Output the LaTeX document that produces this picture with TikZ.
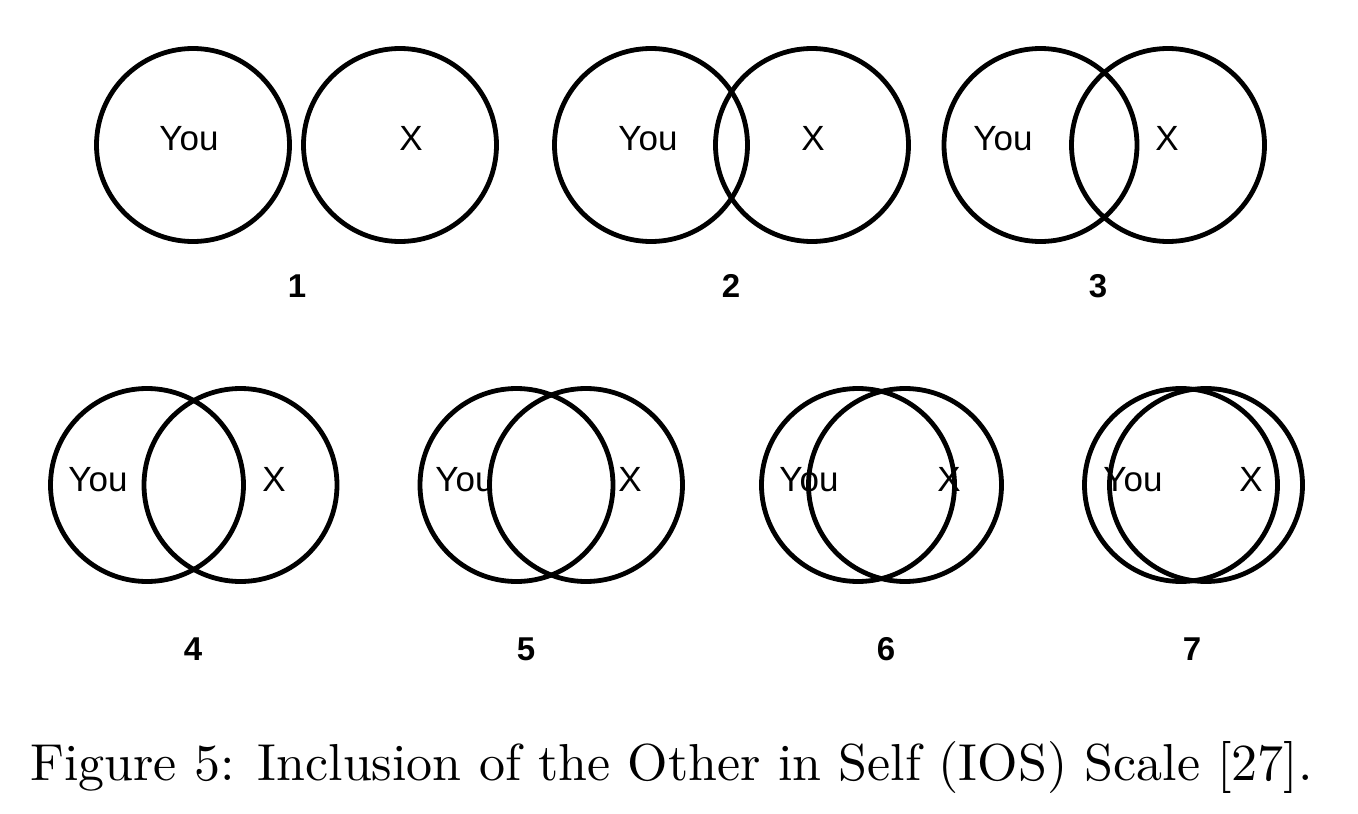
\documentclass[tikz,border=0pt]{standalone}
\usepackage{fontspec}
\setsansfont{Liberation Sans}
\newfontfamily\capfont{lmroman10-regular.otf}
\begin{document}
\begin{tikzpicture}[x=1pt,y=-1pt,
  ring/.style={draw=black,line width=4.8pt,circle,minimum size=193pt,inner sep=0pt},
  lbl/.style={anchor=base,inner sep=0pt,font=\sffamily\fontsize{35}{40}\selectfont},
  num/.style={anchor=base,inner sep=0pt,font=\sffamily\bfseries\fontsize{33}{40}\selectfont},
  captext/.style={anchor=base,inner sep=0pt,font=\capfont\fontsize{52}{60}\selectfont}]
\useasboundingbox[fill=white] (0,0) rectangle (1358,814);
% row 1
\node[ring] (a1) at (193,145) {};
\node[ring] (b1) at (400,145) {};
\node[ring] (a2) at (651,145) {};
\node[ring] (b2) at (812,145) {};
\node[ring] (a3) at (1040.5,145) {};
\node[ring] (b3) at (1168,145) {};
% row 2
\node[ring] (a4) at (147,485) {};
\node[ring] (b4) at (240.5,485) {};
\node[ring] (a5) at (516.5,485) {};
\node[ring] (b5) at (586,485) {};
\node[ring] (a6) at (858,485) {};
\node[ring] (b6) at (905,485) {};
\node[ring] (a7) at (1181,485) {};
\node[ring] (b7) at (1206,485) {};
% labels row 1
\node[lbl] (y1) at (189,150) {You};
\node[lbl] (x1) at (411,150) {X};
\node[lbl] (y2) at (648,150) {You};
\node[lbl] (x2) at (813,150) {X};
\node[lbl] (y3) at (1003,150) {You};
\node[lbl] (x3) at (1167,150) {X};
% labels row 2
\node[lbl] (y4) at (98,491) {You};
\node[lbl] (x4) at (274,491) {X};
\node[lbl] (y5) at (465,491) {You};
\node[lbl] (x5) at (630,491) {X};
\node[lbl] (y6) at (809,491) {You};
\node[lbl] (x6) at (949,491) {X};
\node[lbl] (y7) at (1133,491) {You};
\node[lbl] (x7) at (1251,491) {X};
% numbers
\node[num] (n1) at (297,297) {1};
\node[num] (n2) at (731,297) {2};
\node[num] (n3) at (1098,297) {3};
\node[num] (n4) at (193,660) {4};
\node[num] (n5) at (526,660) {5};
\node[num] (n6) at (886,660) {6};
\node[num] (n7) at (1192,660) {7};
% caption
\node[captext] (caption) at (671.5,780) {Figure 5: Inclusion of the Other in Self (IOS) Scale [27].};
\end{tikzpicture}
\end{document}
